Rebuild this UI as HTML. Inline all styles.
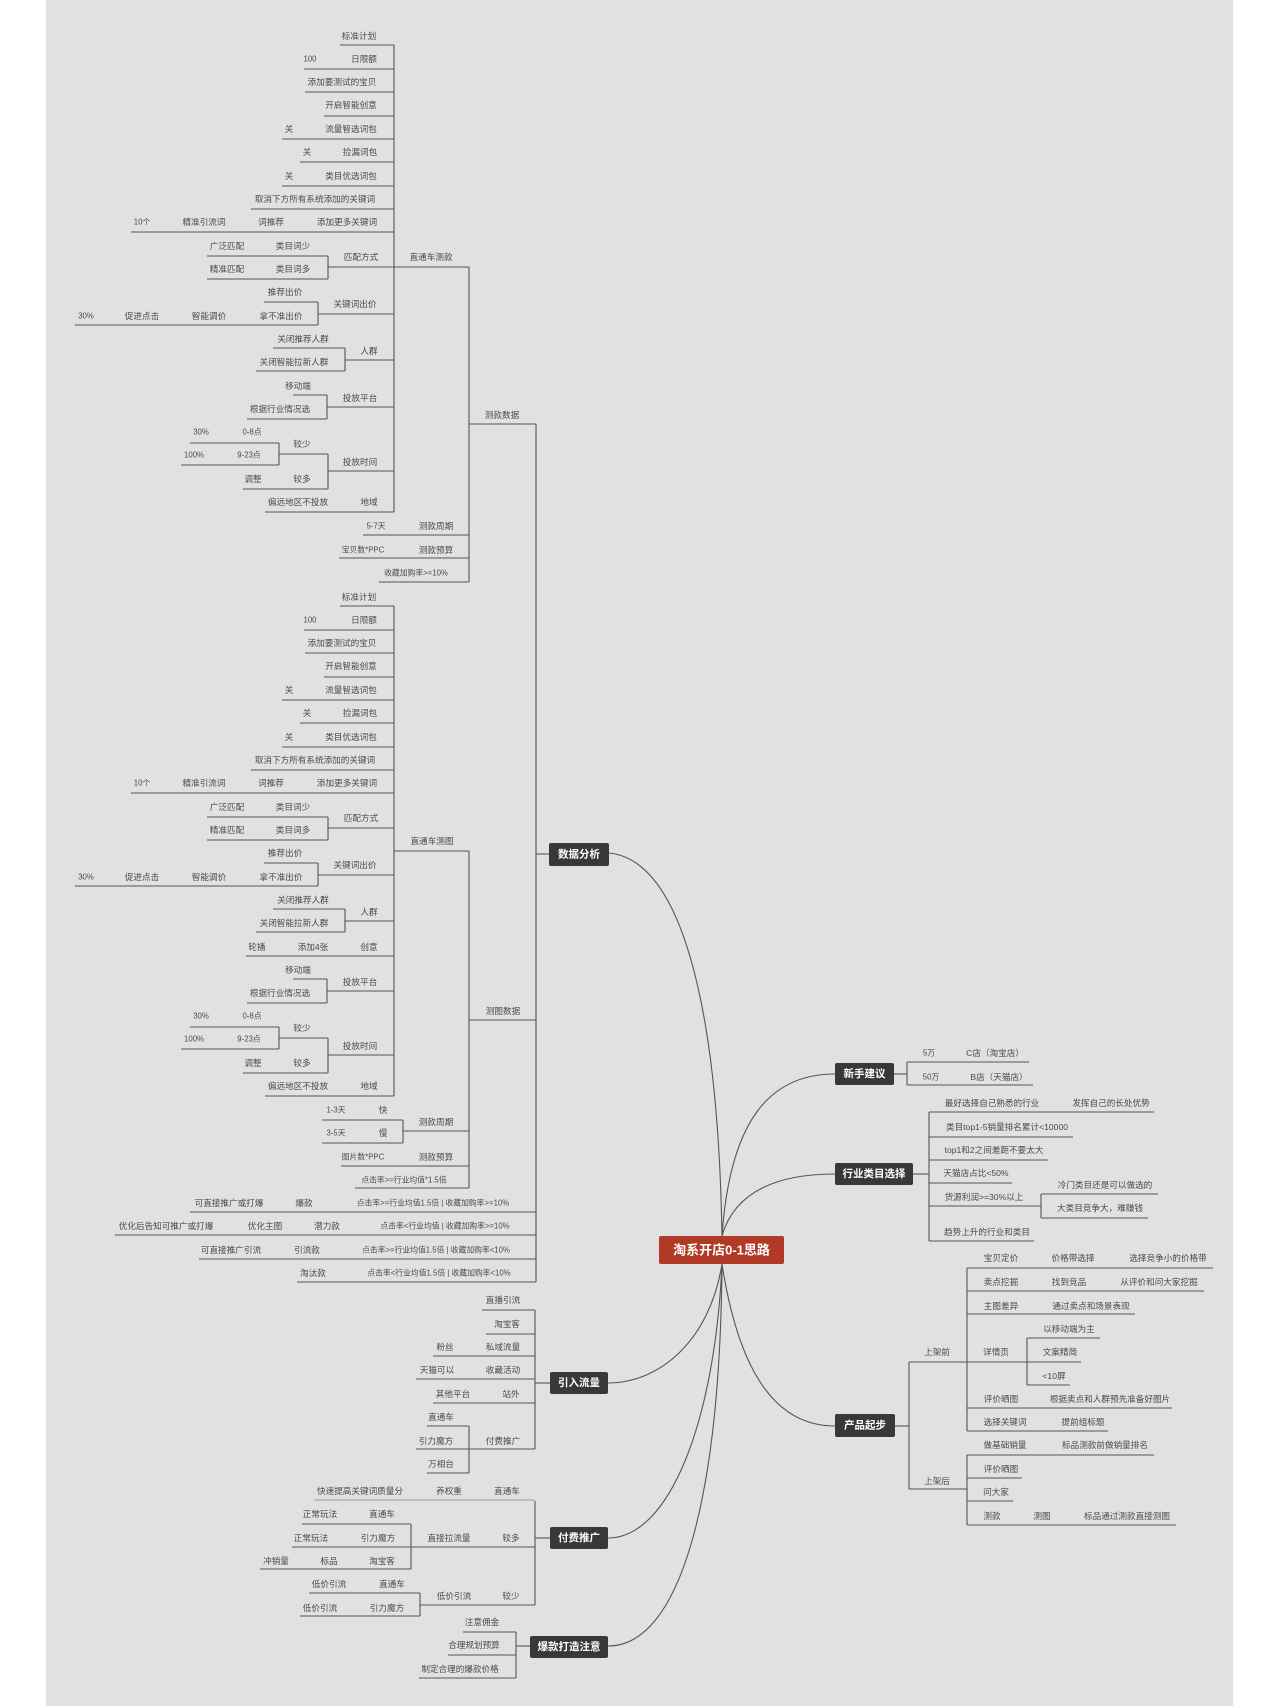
<!DOCTYPE html>
<html><head><meta charset="utf-8">
<style>
html,body{margin:0;padding:0;background:#fff;}
svg{display:block;}
text{font-family:"Liberation Sans","Noto Sans CJK SC",sans-serif;font-size:8.6px;fill:#4a4a4a;text-anchor:middle;dominant-baseline:central;}
.s{font-size:7.8px;}
.b{font-size:10.5px;fill:#fff;font-weight:bold;}
.c{font-size:13px;fill:#fff;font-weight:bold;}
line,path,polyline{stroke:#555;stroke-width:1.1;fill:none;}
</style></head><body>
<svg width="1280" height="1706" viewBox="0 0 1280 1706" xmlns="http://www.w3.org/2000/svg">
<rect x="46" y="0" width="1187" height="1706" fill="#e1e1e1"/>

<!-- curves -->
<path d="M609,853 C680,860 718,1000 722,1236"/>
<path d="M722,1236 C730,1120 770,1074 835,1074"/>
<path d="M722,1236 C735,1190 780,1174 835,1174"/>
<path d="M722,1264 C740,1380 780,1426 835,1426"/>
<path d="M722,1264 C710,1340 660,1383 608,1383"/>
<path d="M722,1264 C715,1420 670,1538 608,1538"/>
<path d="M722,1264 C720,1500 680,1646 608,1646"/>

<!-- ===== Group A: 直通车测款 rows ===== -->
<g id="rowsTop">
<line x1="394" y1="45" x2="394" y2="512"/>
<line x1="340" y1="45" x2="394" y2="45"/><text x="359" y="36">标准计划</text>
<line x1="304" y1="69" x2="394" y2="69"/><text class="s" x="310" y="59">100</text><text x="364" y="59">日限额</text>
<line x1="305" y1="92" x2="394" y2="92"/><text x="342" y="82">添加要测试的宝贝</text>
<line x1="324" y1="116" x2="394" y2="116"/><text x="351" y="105">开启智能创意</text>
<line x1="282" y1="139" x2="394" y2="139"/><text x="289" y="129">关</text><text x="351" y="129">流量智选词包</text>
<line x1="300" y1="162" x2="394" y2="162"/><text x="307" y="152">关</text><text x="360" y="152">捡漏词包</text>
<line x1="282" y1="186" x2="394" y2="186"/><text x="289" y="176">关</text><text x="351" y="176">类目优选词包</text>
<line x1="251" y1="209" x2="394" y2="209"/><text x="315" y="199">取消下方所有系统添加的关键词</text>
<line x1="131" y1="232" x2="394" y2="232"/><text class="s" x="142" y="222">10个</text><text x="204" y="222">精准引流词</text><text x="271" y="222">词推荐</text><text x="347" y="222">添加更多关键词</text>
<line x1="328" y1="267" x2="394" y2="267"/><text x="361" y="257">匹配方式</text>
<line x1="328" y1="256" x2="328" y2="279"/>
<line x1="207" y1="256" x2="328" y2="256"/><text x="227" y="246">广泛匹配</text><text x="293" y="246">类目词少</text>
<line x1="207" y1="279" x2="328" y2="279"/><text x="227" y="269">精准匹配</text><text x="293" y="269">类目词多</text>
<line x1="318" y1="314" x2="394" y2="314"/><text x="355" y="304">关键词出价</text>
<line x1="318" y1="302" x2="318" y2="325"/>
<line x1="264" y1="302" x2="318" y2="302"/><text x="285" y="292">推荐出价</text>
<line x1="75" y1="325" x2="318" y2="325"/><text class="s" x="86" y="316">30%</text><text x="142" y="316">促进点击</text><text x="209" y="316">智能调价</text><text x="281" y="316">拿不准出价</text>
<line x1="345" y1="360" x2="394" y2="360"/><text x="369" y="351">人群</text>
<line x1="345" y1="348" x2="345" y2="371"/>
<line x1="273" y1="348" x2="345" y2="348"/><text x="303" y="339">关闭推荐人群</text>
<line x1="256" y1="371" x2="345" y2="371"/><text x="294" y="362">关闭智能拉新人群</text>
</g>
<g id="rowsTop2">
<line x1="327" y1="407" x2="394" y2="407"/><text x="360" y="398">投放平台</text>
<line x1="327" y1="395" x2="327" y2="419"/>
<line x1="293" y1="395" x2="327" y2="395"/><text x="298" y="386">移动端</text>
<line x1="247" y1="419" x2="327" y2="419"/><text x="280" y="409">根据行业情况选</text>
<line x1="328" y1="471" x2="394" y2="471"/><text x="360" y="462">投放时间</text>
<line x1="328" y1="454" x2="328" y2="489"/>
<line x1="279" y1="454" x2="328" y2="454"/><text x="302" y="444">较少</text>
<line x1="279" y1="443" x2="279" y2="465"/>
<line x1="190" y1="443" x2="279" y2="443"/><text class="s" x="201" y="432">30%</text><text class="s" x="252" y="432">0-8点</text>
<line x1="181" y1="465" x2="279" y2="465"/><text class="s" x="194" y="455">100%</text><text class="s" x="249" y="455">9-23点</text>
<line x1="243" y1="489" x2="328" y2="489"/><text x="253" y="479">调整</text><text x="302" y="479">较多</text>
<line x1="265" y1="512" x2="394" y2="512"/><text x="298" y="502">偏远地区不投放</text><text x="369" y="502">地域</text>
</g>
<line x1="394" y1="267" x2="469" y2="267"/><text x="431" y="257">直通车测款</text>
<line x1="469" y1="267" x2="469" y2="582"/>
<line x1="363" y1="535" x2="469" y2="535"/><text class="s" x="376" y="526">5-7天</text><text x="436" y="526">测款周期</text>
<line x1="339" y1="558" x2="469" y2="558"/><text class="s" x="363" y="550">宝贝数*PPC</text><text x="436" y="550">测款预算</text>
<line x1="379" y1="582" x2="469" y2="582"/><text class="s" x="416" y="573">收藏加购率&gt;=10%</text>
<line x1="469" y1="424" x2="536" y2="424"/><text x="502" y="415">测款数据</text>

<!-- ===== Group B: 直通车测图 ===== -->
<g transform="translate(0,561)">
<line x1="340" y1="45" x2="394" y2="45"/><text x="359" y="36">标准计划</text>
<line x1="304" y1="69" x2="394" y2="69"/><text class="s" x="310" y="59">100</text><text x="364" y="59">日限额</text>
<line x1="305" y1="92" x2="394" y2="92"/><text x="342" y="82">添加要测试的宝贝</text>
<line x1="324" y1="116" x2="394" y2="116"/><text x="351" y="105">开启智能创意</text>
<line x1="282" y1="139" x2="394" y2="139"/><text x="289" y="129">关</text><text x="351" y="129">流量智选词包</text>
<line x1="300" y1="162" x2="394" y2="162"/><text x="307" y="152">关</text><text x="360" y="152">捡漏词包</text>
<line x1="282" y1="186" x2="394" y2="186"/><text x="289" y="176">关</text><text x="351" y="176">类目优选词包</text>
<line x1="251" y1="209" x2="394" y2="209"/><text x="315" y="199">取消下方所有系统添加的关键词</text>
<line x1="131" y1="232" x2="394" y2="232"/><text class="s" x="142" y="222">10个</text><text x="204" y="222">精准引流词</text><text x="271" y="222">词推荐</text><text x="347" y="222">添加更多关键词</text>
<line x1="328" y1="267" x2="394" y2="267"/><text x="361" y="257">匹配方式</text>
<line x1="328" y1="256" x2="328" y2="279"/>
<line x1="207" y1="256" x2="328" y2="256"/><text x="227" y="246">广泛匹配</text><text x="293" y="246">类目词少</text>
<line x1="207" y1="279" x2="328" y2="279"/><text x="227" y="269">精准匹配</text><text x="293" y="269">类目词多</text>
<line x1="318" y1="314" x2="394" y2="314"/><text x="355" y="304">关键词出价</text>
<line x1="318" y1="302" x2="318" y2="325"/>
<line x1="264" y1="302" x2="318" y2="302"/><text x="285" y="292">推荐出价</text>
<line x1="75" y1="325" x2="318" y2="325"/><text class="s" x="86" y="316">30%</text><text x="142" y="316">促进点击</text><text x="209" y="316">智能调价</text><text x="281" y="316">拿不准出价</text>
<line x1="345" y1="360" x2="394" y2="360"/><text x="369" y="351">人群</text>
<line x1="345" y1="348" x2="345" y2="371"/>
<line x1="273" y1="348" x2="345" y2="348"/><text x="303" y="339">关闭推荐人群</text>
<line x1="256" y1="371" x2="345" y2="371"/><text x="294" y="362">关闭智能拉新人群</text>
</g>
<line x1="394" y1="606" x2="394" y2="1096"/>
<line x1="246" y1="956" x2="394" y2="956"/><text x="257" y="947">轮播</text><text x="313" y="947">添加4张</text><text x="369" y="947">创意</text>
<g transform="translate(0,584)">
<line x1="327" y1="407" x2="394" y2="407"/><text x="360" y="398">投放平台</text>
<line x1="327" y1="395" x2="327" y2="419"/>
<line x1="293" y1="395" x2="327" y2="395"/><text x="298" y="386">移动端</text>
<line x1="247" y1="419" x2="327" y2="419"/><text x="280" y="409">根据行业情况选</text>
<line x1="328" y1="471" x2="394" y2="471"/><text x="360" y="462">投放时间</text>
<line x1="328" y1="454" x2="328" y2="489"/>
<line x1="279" y1="454" x2="328" y2="454"/><text x="302" y="444">较少</text>
<line x1="279" y1="443" x2="279" y2="465"/>
<line x1="190" y1="443" x2="279" y2="443"/><text class="s" x="201" y="432">30%</text><text class="s" x="252" y="432">0-8点</text>
<line x1="181" y1="465" x2="279" y2="465"/><text class="s" x="194" y="455">100%</text><text class="s" x="249" y="455">9-23点</text>
<line x1="243" y1="489" x2="328" y2="489"/><text x="253" y="479">调整</text><text x="302" y="479">较多</text>
<line x1="265" y1="512" x2="394" y2="512"/><text x="298" y="502">偏远地区不投放</text><text x="369" y="502">地域</text>
</g>
<line x1="394" y1="851" x2="469" y2="851"/><text x="432" y="841">直通车测图</text>
<line x1="469" y1="851" x2="469" y2="1188"/>
<line x1="403" y1="1131" x2="469" y2="1131"/><text x="436" y="1122">测款周期</text>
<line x1="403" y1="1120" x2="403" y2="1143"/>
<line x1="322" y1="1120" x2="403" y2="1120"/><text class="s" x="336" y="1110">1-3天</text><text x="383" y="1110">快</text>
<line x1="322" y1="1143" x2="403" y2="1143"/><text class="s" x="336" y="1133">3-5天</text><text x="383" y="1133">慢</text>
<line x1="341" y1="1166" x2="469" y2="1166"/><text class="s" x="363" y="1157">图片数*PPC</text><text x="436" y="1157">测款预算</text>
<line x1="355" y1="1188" x2="469" y2="1188"/><text class="s" x="404" y="1180">点击率&gt;=行业均值*1.5倍</text>
<line x1="469" y1="1020" x2="536" y2="1020"/><text x="503" y="1011">测图数据</text>

<!-- 数据分析 main bracket -->
<line x1="536" y1="424" x2="536" y2="1282"/>
<line x1="536" y1="854" x2="549" y2="854"/>
<line x1="190" y1="1212" x2="536" y2="1212"/><text x="229" y="1203">可直接推广或打爆</text><text x="304" y="1203">爆款</text><text class="s" x="433" y="1203">点击率&gt;=行业均值1.5倍 | 收藏加购率&gt;=10%</text>
<line x1="115" y1="1235" x2="536" y2="1235"/><text x="166" y="1226">优化后告知可推广或打爆</text><text x="265" y="1226">优化主图</text><text x="327" y="1226">潜力款</text><text class="s" x="445" y="1226">点击率&lt;行业均值 | 收藏加购率&gt;=10%</text>
<line x1="199" y1="1259" x2="536" y2="1259"/><text x="231" y="1250">可直接推广引流</text><text x="307" y="1250">引流款</text><text class="s" x="436" y="1250">点击率&gt;=行业均值1.5倍 | 收藏加购率&lt;10%</text>
<line x1="297" y1="1282" x2="536" y2="1282"/><text x="313" y="1273">淘汰款</text><text class="s" x="439" y="1273">点击率&lt;行业均值1.5倍 | 收藏加购率&lt;10%</text>
<rect x="549" y="843" width="60" height="23" rx="2" fill="#383836"/><text class="b" x="579" y="854.5">数据分析</text>

<!-- 引入流量 -->
<line x1="535" y1="1310" x2="535" y2="1449"/>
<line x1="535" y1="1383" x2="550" y2="1383"/>
<line x1="482" y1="1310" x2="535" y2="1310"/><text x="503" y="1300">直播引流</text>
<line x1="486" y1="1334" x2="535" y2="1334"/><text x="507" y="1324">淘宝客</text>
<line x1="433" y1="1356" x2="535" y2="1356"/><text x="445" y="1347">粉丝</text><text x="503" y="1347">私域流量</text>
<line x1="416" y1="1379" x2="535" y2="1379"/><text x="437" y="1370">天猫可以</text><text x="503" y="1370">收藏活动</text>
<line x1="433" y1="1403" x2="535" y2="1403"/><text x="453" y="1394">其他平台</text><text x="511" y="1394">站外</text>
<line x1="416" y1="1449" x2="535" y2="1449"/><text x="503" y="1441">付费推广</text><text x="436" y="1441">引力魔方</text>
<line x1="469" y1="1426" x2="469" y2="1473"/>
<line x1="427" y1="1426" x2="469" y2="1426"/><text x="441" y="1417">直通车</text>
<line x1="427" y1="1473" x2="469" y2="1473"/><text x="441" y="1464">万相台</text>
<rect x="550" y="1372" width="58" height="22" rx="2" fill="#383836"/><text class="b" x="579" y="1383">引入流量</text>

<!-- 付费推广 -->
<line x1="535" y1="1501" x2="535" y2="1605"/>
<line x1="535" y1="1538" x2="550" y2="1538"/>
<line x1="314" y1="1500" x2="535" y2="1500" style="stroke:#999"/><text x="360" y="1491">快速提高关键词质量分</text><text x="449" y="1491">养权重</text><text x="507" y="1491">直通车</text>
<line x1="292" y1="1547" x2="535" y2="1547"/><text x="311" y="1538">正常玩法</text><text x="378" y="1538">引力魔方</text><text x="449" y="1538">直接拉流量</text><text x="511" y="1538">较多</text>
<line x1="411" y1="1524" x2="411" y2="1569"/>
<line x1="302" y1="1524" x2="411" y2="1524"/><text x="320" y="1514">正常玩法</text><text x="382" y="1514">直通车</text>
<line x1="260" y1="1569" x2="411" y2="1569"/><text x="276" y="1561">冲销量</text><text x="329" y="1561">标品</text><text x="382" y="1561">淘宝客</text>
<line x1="420" y1="1605" x2="535" y2="1605"/><text x="454" y="1596">低价引流</text><text x="511" y="1596">较少</text>
<line x1="420" y1="1593" x2="420" y2="1616"/>
<line x1="309" y1="1593" x2="420" y2="1593"/><text x="329" y="1584">低价引流</text><text x="392" y="1584">直通车</text>
<line x1="300" y1="1616" x2="420" y2="1616"/><text x="320" y="1608">低价引流</text><text x="387" y="1608">引力魔方</text>
<rect x="550" y="1527" width="58" height="22" rx="2" fill="#383836"/><text class="b" x="579" y="1538">付费推广</text>

<!-- 爆款打造注意 -->
<line x1="516" y1="1632" x2="516" y2="1678"/>
<line x1="516" y1="1646" x2="530" y2="1646"/>
<line x1="463" y1="1632" x2="516" y2="1632"/><text x="482" y="1622">注意佣金</text>
<line x1="448" y1="1655" x2="516" y2="1655"/><text x="474" y="1645">合理规划预算</text>
<line x1="419" y1="1678" x2="516" y2="1678"/><text x="460" y="1669">制定合理的爆款价格</text>
<rect x="530" y="1636" width="78" height="22" rx="2" fill="#383836"/><text class="b" x="569" y="1647">爆款打造注意</text>

<!-- central -->
<rect x="659" y="1236" width="125" height="28" rx="2" fill="#b03a26"/><text class="c" x="721.5" y="1250">淘系开店0-1思路</text>

<!-- 新手建议 -->
<line x1="894" y1="1074" x2="907" y2="1074"/>
<line x1="907" y1="1062" x2="907" y2="1085"/>
<line x1="907" y1="1062" x2="1029" y2="1062"/><text class="s" x="929" y="1053">5万</text><text x="995" y="1053">C店（淘宝店）</text>
<line x1="907" y1="1085" x2="1033" y2="1085"/><text class="s" x="931" y="1077">50万</text><text x="999" y="1077">B店（天猫店）</text>
<rect x="835" y="1063" width="59" height="22" rx="2" fill="#383836"/><text class="b" x="864.5" y="1074">新手建议</text>

<!-- 行业类目选择 -->
<line x1="913" y1="1174" x2="929" y2="1174"/>
<line x1="929" y1="1112" x2="929" y2="1241"/>
<line x1="929" y1="1112" x2="1154" y2="1112"/><text x="992" y="1103">最好选择自己熟悉的行业</text><text x="1111" y="1103">发挥自己的长处优势</text>
<line x1="929" y1="1137" x2="1073" y2="1137"/><text x="1007" y="1127">类目top1-5销量排名累计&lt;10000</text>
<line x1="929" y1="1160" x2="1048" y2="1160"/><text x="994" y="1150">top1和2之间差距不要太大</text>
<line x1="929" y1="1183" x2="1012" y2="1183"/><text x="976" y="1173">天猫店占比&lt;50%</text>
<line x1="929" y1="1206" x2="1041" y2="1206"/><text x="984" y="1197">货源利润&gt;=30%以上</text>
<line x1="1041" y1="1194" x2="1041" y2="1218"/>
<line x1="1041" y1="1194" x2="1158" y2="1194"/><text x="1105" y="1185">冷门类目还是可以做选的</text>
<line x1="1041" y1="1218" x2="1148" y2="1218"/><text x="1100" y="1208">大类目竞争大，难赚钱</text>
<line x1="929" y1="1241" x2="1034" y2="1241"/><text x="987" y="1232">趋势上升的行业和类目</text>
<rect x="835" y="1163" width="78" height="22" rx="2" fill="#383836"/><text class="b" x="874" y="1174">行业类目选择</text>

<!-- 产品起步 -->
<line x1="895" y1="1426" x2="909" y2="1426"/>
<line x1="909" y1="1362" x2="909" y2="1489"/>
<line x1="909" y1="1362" x2="1081" y2="1362"/><text x="937" y="1352">上架前</text>
<line x1="967" y1="1268" x2="967" y2="1431"/>
<line x1="967" y1="1268" x2="1213" y2="1268"/><text x="1001" y="1258">宝贝定价</text><text x="1073" y="1258">价格带选择</text><text x="1168" y="1258">选择竞争小的价格带</text>
<line x1="967" y1="1291" x2="1204" y2="1291"/><text x="1001" y="1282">卖点挖掘</text><text x="1069" y="1282">找到竞品</text><text x="1159" y="1282">从评价和问大家挖掘</text>
<line x1="967" y1="1314" x2="1135" y2="1314"/><text x="1001" y="1306">主图差异</text><text x="1091" y="1306">通过卖点和场景表现</text>
<text x="996" y="1352">详情页</text>
<line x1="1027" y1="1338" x2="1027" y2="1385"/>
<line x1="1027" y1="1338" x2="1100" y2="1338"/><text x="1069" y="1329">以移动端为主</text>
<text x="1060" y="1352">文案精简</text>
<line x1="1027" y1="1385" x2="1070" y2="1385"/><text x="1054" y="1376">&lt;10屏</text>
<line x1="967" y1="1408" x2="1172" y2="1408"/><text x="1001" y="1399">评价晒图</text><text x="1110" y="1399">根据卖点和人群预先准备好图片</text>
<line x1="967" y1="1431" x2="1108" y2="1431"/><text x="1005" y="1422">选择关键词</text><text x="1083" y="1422">提前组标题</text>
<line x1="909" y1="1489" x2="967" y2="1489"/><text x="937" y="1481">上架后</text>
<line x1="967" y1="1455" x2="967" y2="1525"/>
<line x1="967" y1="1455" x2="1154" y2="1455"/><text x="1005" y="1445">做基础销量</text><text x="1105" y="1445">标品测款前做销量排名</text>
<line x1="967" y1="1478" x2="1022" y2="1478"/><text x="1001" y="1469">评价晒图</text>
<line x1="967" y1="1501" x2="1013" y2="1501"/><text x="996" y="1492">问大家</text>
<line x1="967" y1="1525" x2="1176" y2="1525"/><text x="992" y="1516">测款</text><text x="1042" y="1516">测图</text><text x="1127" y="1516">标品通过测款直接测图</text>
<rect x="835" y="1414" width="60" height="23" rx="2" fill="#383836"/><text class="b" x="865" y="1425.5">产品起步</text>
</svg>
</body></html>
